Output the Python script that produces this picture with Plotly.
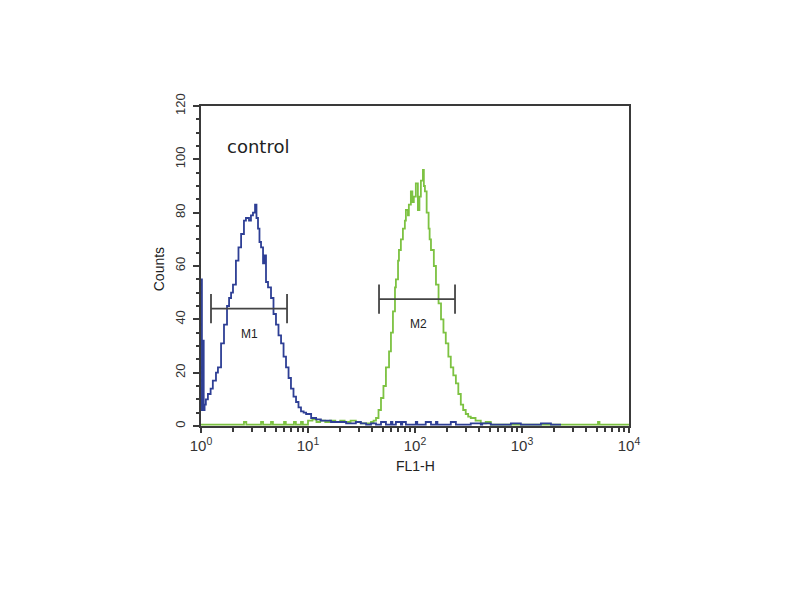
import plotly.graph_objects as go

# FL1-H histogram (blue = stained sample, green = second sample)
blue_fl1 = [1.00, 1.02, 1.04, 1.06, 1.08, 1.11, 1.16, 1.23, 1.29, 1.38, 1.44, 1.54,
            1.64, 1.75, 1.83, 1.91, 1.99, 2.12, 2.24, 2.37, 2.52, 2.63, 2.81, 2.93,
            3.06, 3.20, 3.30, 3.41, 3.52, 3.64, 3.80, 3.92, 4.05, 4.23, 4.51, 4.76,
            5.02, 5.30, 5.60, 5.91, 6.23, 6.58, 6.93, 7.32, 7.73, 8.15, 8.60, 9.10,
            9.60, 10.7, 11.9, 13.2, 14.8, 16.4, 18.3, 20.4, 22.7, 25.2, 28.0, 31.2,
            34.9, 38.8, 43.2, 48.1, 53.5, 59.6, 61.5, 66.3, 73.8, 76.0, 82.2, 91.5,
            101.8, 105.0, 113.0, 126.0, 141.0, 157.0, 162.0, 175.0, 194.0, 216.0,
            241.0, 248.0, 268.0, 332.0, 412.0, 425.0, 511.0, 634.0, 787.0, 976.0,
            1211.0, 1503.0, 1865.0, 2314.0]
blue_counts = [55, 6, 32, 6, 8, 10, 12, 14, 17, 20, 22, 31,
               38, 45, 48, 50, 53, 62, 67, 72, 77, 78, 77, 79,
               80, 83, 78, 74, 69, 67, 61, 64, 54, 52, 48, 42,
               38, 34, 31, 26, 22, 18, 14, 11, 9, 7, 5.5, 5,
               4.5, 3, 2.5, 2, 2, 1.5, 1.5, 1.5, 1, 1, 1.5, 1,
               0.5, 1, 0.5, 1.5, 0.5, 1.5, 0.5, 1.5, 0.5, 1.5, 0.5, 0.5,
               1.5, 0.5, 0.5, 1.5, 0.5, 1.5, 0.5, 0.5, 0.5, 1.5,
               0.5, 0.5, 0.5, 1, 0.5, 1, 0.5, 0.5, 1, 0.5,
               0.5, 1, 0.5, 0.5]

green_fl1 = [1.00, 2.52, 2.65, 3.64, 3.80, 4.51, 4.70, 5.97, 6.20, 7.39, 7.70, 8.60,
             8.95, 10.0, 11.0, 12.0, 13.0, 14.5, 16.0, 18.0, 20.0, 22.0, 25.0, 28.0,
             31.0, 35.0, 38.8, 41.0, 43.2, 45.6, 48.1, 50.7, 53.5, 57.2, 59.6, 62.2,
             65.0, 66.3, 69.4, 70.8, 73.8, 77.1, 80.4, 82.2, 85.9, 87.6, 91.5, 94.5,
             97.5, 101.8, 106.4, 110.0, 113.5, 118.6, 121.0, 123.8, 128.5, 134.0,
             137.0, 141.0, 150.0, 157.0, 166.0, 175.0, 184.5, 194.0, 205.0, 216.0,
             228.0, 241.0, 254.0, 268.0, 282.0, 298.0, 314.0, 332.0, 368.0, 412.0,
             458.0, 511.0, 1000.0, 2500.0, 5130.0, 5300.0, 10000.0]
green_counts = [0.5, 1.5, 0.5, 1.5, 0.5, 1.5, 0.5, 1.5, 0.5, 1.5, 0.5, 1.5,
                0.5, 2, 2.5, 1.5, 2, 1.5, 2, 1.5, 2, 1.5, 2, 1.5,
                1, 1, 1.5, 2, 3, 6, 10.5, 15, 22, 28, 35, 43,
                52, 55, 62, 66, 70, 74, 77, 81, 79, 83, 88, 84,
                86, 91, 81, 86, 92, 96, 90, 88, 80, 74,
                70, 66, 60, 53, 46, 40, 35, 31, 26, 22,
                19, 16, 12, 8, 6, 4.5, 3.5, 3, 2, 1,
                1.5, 0.5, 0.5, 0.5, 1.5, 0.5, 0.5]

# marker gates: [left, right] FL1-H and bar height in counts
m1_range = [1.24, 6.37]
m1_level = 44
m2_range = [46.1, 236.6]
m2_level = 47.6
cap_half = 5.5

x_tickvals = [1, 10, 100, 1000, 10000]
x_ticktext = ['10<sup>0</sup>', '10<sup>1</sup>', '10<sup>2</sup>', '10<sup>3</sup>', '10<sup>4</sup>']
x_minor = [m * 10 ** d for d in range(4) for m in range(2, 10)]
y_tickvals = [0, 20, 40, 60, 80, 100, 120]

AXIS_COLOR = '#3a3a3a'
BAR_COLOR = '#444444'
FONT = 'Liberation Sans, Arial, sans-serif'

fig = go.Figure()

fig.add_trace(go.Scatter(x=green_fl1, y=green_counts, mode='lines', line_shape='hv',
                         line=dict(color='#7dc242', width=1.8), hoverinfo='skip'))
fig.add_trace(go.Scatter(x=blue_fl1, y=blue_counts, mode='lines', line_shape='hv',
                         line=dict(color='#2e3f95', width=1.8), hoverinfo='skip'))


def gate(xr, level):
    # horizontal bar with end caps
    xs = [xr[0], xr[0], None, xr[0], xr[1], None, xr[1], xr[1]]
    ys = [level - cap_half, level + cap_half, None, level, level, None,
          level - cap_half, level + cap_half]
    return go.Scatter(x=xs, y=ys, mode='lines', line=dict(color=BAR_COLOR, width=1.8),
                      hoverinfo='skip')


fig.add_trace(gate(m1_range, m1_level))
fig.add_trace(gate(m2_range, m2_level))

fig.add_annotation(x=0.45, y=m1_level - 9.5, xref='x', yref='y', text='M1', showarrow=False,
                   font=dict(size=12, color='#222', family=FONT))
fig.add_annotation(x=2.03, y=m2_level - 9.5, xref='x', yref='y', text='M2', showarrow=False,
                   font=dict(size=12, color='#222', family=FONT))
fig.add_annotation(x=0.055, y=0.875, xref='paper', yref='paper', text='control',
                   showarrow=False, xanchor='left', yanchor='middle',
                   font=dict(size=18, color='#222', family='DejaVu Sans, sans-serif'))
fig.add_annotation(x=-0.098, y=0.49, xref='paper', yref='paper', text='Counts',
                   textangle=-90, showarrow=False, xanchor='center', yanchor='middle',
                   font=dict(size=14, color='#222', family=FONT))
fig.add_annotation(x=0.502, y=-0.125, xref='paper', yref='paper', text='FL1-H',
                   showarrow=False, xanchor='center', yanchor='middle',
                   font=dict(size=14, color='#222', family=FONT))

fig.update_layout(
    width=800, height=600,
    margin=dict(l=193, r=179, t=98, b=182),
    paper_bgcolor='white', plot_bgcolor='white',
    showlegend=False,
    font=dict(family=FONT, color='#333'),
    xaxis=dict(type='log', range=[0, 4], tickmode='array', tickvals=x_tickvals,
               ticktext=x_ticktext, ticks='outside', ticklen=5, tickwidth=1.5,
               tickcolor=AXIS_COLOR, showgrid=False, zeroline=False,
               showline=True, linecolor=AXIS_COLOR, linewidth=2, mirror=True,
               tickfont=dict(size=15, color='#333'),
               minor=dict(tickmode='array', tickvals=x_minor, ticks='outside',
                          ticklen=4, tickwidth=1.5, tickcolor=AXIS_COLOR, showgrid=False)),
    yaxis=dict(range=[0, 120], tickmode='array', tickvals=y_tickvals,
               ticks='outside', ticklen=6, tickwidth=1.5, tickcolor=AXIS_COLOR,
               tickangle=-90, showgrid=False, zeroline=False, ticklabelstandoff=3,
               showline=True, linecolor=AXIS_COLOR, linewidth=2, mirror=True,
               tickfont=dict(size=13, color='#333'),
               minor=dict(dtick=5, ticks='outside', ticklen=3, tickwidth=1.5,
                          tickcolor=AXIS_COLOR, showgrid=False)),
)

fig.write_html("out.html")
